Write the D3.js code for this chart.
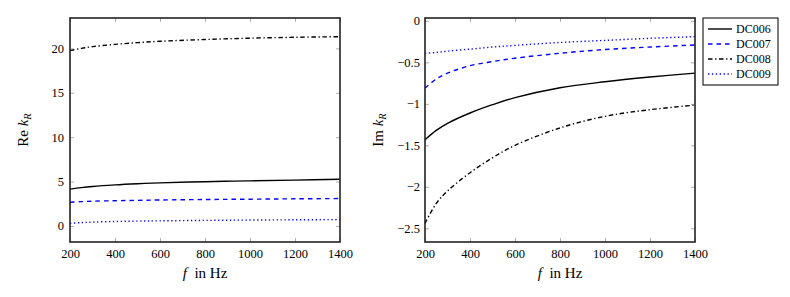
<!DOCTYPE html>
<html>
<head>
<meta charset="utf-8">
<script src="https://cdn.jsdelivr.net/npm/d3@7"></script>
<style>
  html, body { margin: 0; padding: 0; background: #fff; }
  svg { display: block; font-family: "Liberation Serif", "DejaVu Serif", serif; }
  .tick text { fill: #000; }
</style>
</head>
<body>
<svg id="chart" width="790" height="297"></svg>
<script>
// Frequenzen (Hz)
const freqs = [200, 250, 300, 400, 500, 600, 800, 1000, 1200, 1400];
const seriesNames = ["DC006", "DC007", "DC008", "DC009"];

// Realteil
const reDC006 = [4.15, 4.32, 4.45, 4.63, 4.76, 4.86, 4.99, 5.08, 5.17, 5.26];
const reDC007 = [2.68, 2.74, 2.79, 2.85, 2.89, 2.93, 2.98, 3.02, 3.06, 3.09];
const reDC008 = [19.75, 20.0, 20.2, 20.45, 20.65, 20.8, 21.0, 21.15, 21.25, 21.32];
const reDC009 = [0.3, 0.38, 0.44, 0.51, 0.55, 0.58, 0.63, 0.67, 0.7, 0.72];

// Imaginärteil
const imDC006 = [-1.433, -1.32, -1.235, -1.11, -1.01, -0.925, -0.805, -0.733, -0.677, -0.63];
const imDC007 = [-0.81, -0.7, -0.63, -0.54, -0.49, -0.45, -0.39, -0.345, -0.315, -0.29];
const imDC008 = [-2.44, -2.2, -2.05, -1.83, -1.65, -1.5, -1.29, -1.15, -1.07, -1.015];
const imDC009 = [-0.39, -0.38, -0.365, -0.34, -0.315, -0.295, -0.26, -0.235, -0.21, -0.19];

// Achsenbeschriftungen
const xTicks = [200, 400, 600, 800, 1000, 1200, 1400];
const reTicks = [0, 5, 10, 15, 20];
const imTicks = [0, -0.5, -1, -1.5, -2, -2.5];

// Linienstile je Serie
const styles = [
  { color: "#000", dash: null },
  { color: "#0000ff", dash: "4.5,4" },
  { color: "#000", dash: "4.5,2.6,1.3,2.6" },
  { color: "#0000ff", dash: "1.3,2.6" }
];

const FONT = '"Liberation Serif", "DejaVu Serif", serif';
const svg = d3.select("#chart");

function enlarged(values) {
  const [lo, hi] = d3.extent(values);
  const pad = (hi - lo) * 0.1;
  return [lo - pad, hi + pad];
}

function renderPanel(left, top, width, height, series, yTicks, yLabelMain, padY) {
  const g = svg.append("g").attr("transform", `translate(${left},${top})`);
  const x = d3.scaleLinear().domain([200, 1400]).range([0, width]);
  const y = d3.scaleLinear().domain(enlarged(series.flat())).range([height, 0]);
  const fmt = d3.format("~g");

  // Ticks innen, alle vier Seiten
  const axes = [
    { ax: d3.axisBottom(x).tickValues(xTicks).tickFormat(fmt).tickSizeInner(-4).tickSizeOuter(0).tickPadding(7), t: `translate(0,${height})` },
    { ax: d3.axisTop(x).tickValues(xTicks).tickFormat("").tickSizeInner(-4).tickSizeOuter(0), t: "translate(0,0)" },
    { ax: d3.axisLeft(y).tickValues(yTicks).tickFormat(fmt).tickSizeInner(-4).tickSizeOuter(0).tickPadding(padY), t: "translate(0,0)" },
    { ax: d3.axisRight(y).tickValues(yTicks).tickFormat("").tickSizeInner(-4).tickSizeOuter(0), t: `translate(${width},0)` }
  ];
  axes.forEach(a => {
    const ag = g.append("g").attr("transform", a.t).call(a.ax);
    ag.attr("font-family", FONT).attr("font-size", 12.5);
    ag.select(".domain").remove();
    ag.selectAll(".tick line").attr("stroke", "#9a9a9a").attr("stroke-width", 0.8);
    ag.selectAll(".tick text").style("font-family", FONT).style("font-size", "12.5px");
  });

  const line = d3.line()
    .x((d, i) => x(freqs[i]))
    .y(d => y(d))
    .curve(d3.curveCatmullRom.alpha(0.5));

  series.forEach((vals, i) => {
    g.append("path")
      .attr("d", line(vals))
      .attr("fill", "none")
      .attr("stroke", styles[i].color)
      .attr("stroke-width", 1.4)
      .attr("stroke-dasharray", styles[i].dash);
  });

  // Rahmen
  g.append("rect")
    .attr("width", width).attr("height", height)
    .attr("fill", "none").attr("stroke", "#222").attr("stroke-width", 1.6);

  // x-Beschriftung
  const xl = g.append("text")
    .attr("x", width / 2).attr("y", height + 36)
    .attr("text-anchor", "middle")
    .style("font-size", "15px");
  xl.append("tspan").style("font-style", "italic").text("f");
  xl.append("tspan").text("\u2002in Hz");

  // y-Beschriftung
  const yl = g.append("text")
    .attr("transform", `translate(${-42},${height / 2}) rotate(-90)`)
    .attr("text-anchor", "middle")
    .style("font-size", "15px");
  yl.append("tspan").text(yLabelMain + " ");
  yl.append("tspan").style("font-style", "italic").text("k");
  yl.append("tspan").style("font-style", "italic").style("font-size", "10.5px").attr("dy", 3).text("R");

  return g;
}

renderPanel(70, 18, 270, 224, [reDC006, reDC007, reDC008, reDC009], reTicks, "Re", 6);
renderPanel(425, 18, 270, 224, [imDC006, imDC007, imDC008, imDC009], imTicks, "Im", 5);

// Legende
const lg = svg.append("g").attr("transform", "translate(703,18)");
lg.append("rect")
  .attr("width", 75).attr("height", 67)
  .attr("fill", "#fff").attr("stroke", "#111").attr("stroke-width", 1.1);
seriesNames.forEach((name, i) => {
  const yy = 11 + i * 15;
  lg.append("line")
    .attr("x1", 5).attr("x2", 29).attr("y1", yy).attr("y2", yy)
    .attr("stroke", styles[i].color).attr("stroke-width", 1.4)
    .attr("stroke-dasharray", styles[i].dash);
  lg.append("text")
    .attr("x", 33).attr("y", yy).attr("dy", "0.35em")
    .style("font-size", "12px")
    .text(name);
});
</script>
</body>
</html>
